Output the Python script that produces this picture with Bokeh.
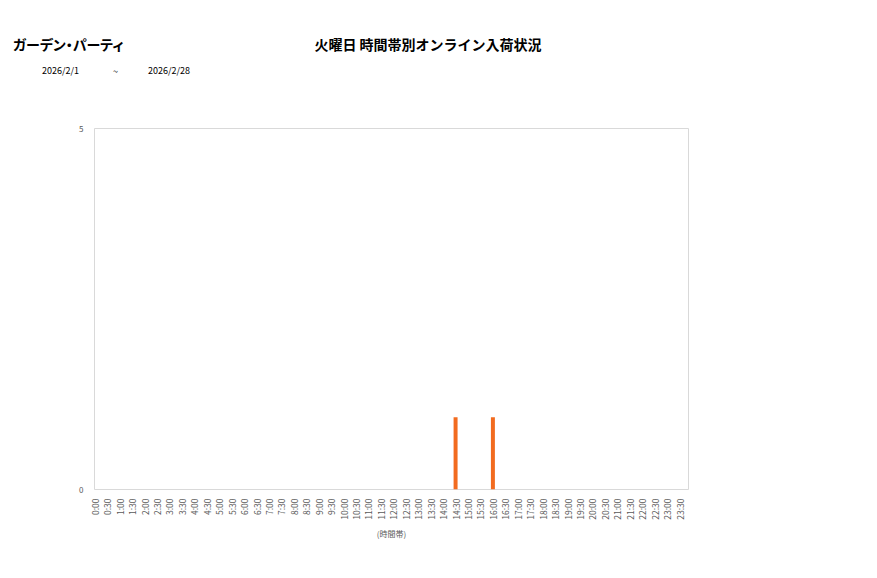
import math
from bokeh.plotting import figure
from bokeh.models import FixedTicker, Range1d, ColumnDataSource, Div
from bokeh.layouts import column
from bokeh.embed import file_html
from bokeh.resources import INLINE

# ---- data ----
time_labels = [f"{h}:{m:02d}" for h in range(24) for m in (0, 30)]
arrivals = [0] * 48
arrivals[29] = 1   # 14:30
arrivals[32] = 1   # 16:00
store_name = "ガーデン・パーティ"
chart_title = "火曜日 時間帯別オンライン入荷状況"
date_from = "2026/2/1"
date_to = "2026/2/28"
y_ticks = [0, 5]

W = 870
HEAD = 100                 # header block height
FL, FT, FR, FB = 94, 128, 688, 489   # frame edges in page pixels
H = 570 - HEAD
FONT = "Noto Sans CJK JP"

xs = list(range(len(time_labels)))
src = ColumnDataSource(dict(x=xs, top=arrivals, label=time_labels))

p = figure(width=W, height=H, output_backend="svg", toolbar_location=None,
           x_range=Range1d(-0.02, 47.72), y_range=Range1d(0, 5),
           min_border_left=FL, min_border_right=W - FR, min_border_top=FT - HEAD,
           min_border_bottom=570 - FB)
p.vbar(x="x", top="top", bottom=0, width=0.32, source=src,
       fill_color="#F26B1F", line_color=None)

p.grid.visible = False
p.outline_line_color = "#D9D9D9"
p.outline_line_width = 1
p.background_fill_color = "white"
p.border_fill_color = "white"

xa = p.xaxis[0]
xa.ticker = FixedTicker(ticks=xs)
xa.major_label_overrides = {i: t for i, t in enumerate(time_labels)}
xa.major_label_orientation = math.pi / 2
xa.axis_line_color = None
xa.major_tick_line_color = None
xa.minor_tick_line_color = None
xa.major_label_text_font = FONT
xa.major_label_text_font_size = "8.5px"
xa.major_label_text_color = "#595959"
xa.major_label_standoff = 3
xa.axis_label = "(時間帯)"
xa.axis_label_text_font = FONT
xa.axis_label_text_font_size = "8px"
xa.axis_label_text_font_style = "normal"
xa.axis_label_text_color = "#595959"
xa.axis_label_standoff = 5

ya = p.yaxis[0]
ya.ticker = FixedTicker(ticks=y_ticks)
ya.axis_line_color = None
ya.major_tick_line_color = None
ya.minor_tick_line_color = None
ya.major_label_text_font = FONT
ya.major_label_text_font_size = "8px"
ya.major_label_text_color = "#595959"
ya.major_label_standoff = 5

def span(text, x, y, size, center=False, bold=False, palt=False):
    tx = "transform:translateX(-50%);" if center else ""
    fw = "font-weight:bold;" if bold else ""
    ff = "font-feature-settings:'palt';" if palt else ""
    top = y - size / 2
    return (f'<span style="position:absolute;left:{x}px;top:{top}px;font-size:{size}px;'
            f'line-height:{size}px;white-space:nowrap;{tx}{fw}{ff}">{text}</span>')

header_html = (
    f'<div style="position:relative;width:{W}px;height:{HEAD}px;'
    f'font-family:\'{FONT}\';color:#000;">'
    + span(store_name, 13, 44, 14, bold=True, palt=True)
    + span(chart_title, 428, 44, 14, center=True, bold=True)
    + span(date_from, 42, 70, 9)
    + span("~", 113, 71, 9)
    + span(date_to, 148, 70, 9)
    + '</div>'
)
header = Div(text=header_html, width=W, height=HEAD, styles={"margin": "0", "padding": "0"})

layout = column(header, p, spacing=0)
open("out.html", "w").write(file_html(layout, INLINE))
